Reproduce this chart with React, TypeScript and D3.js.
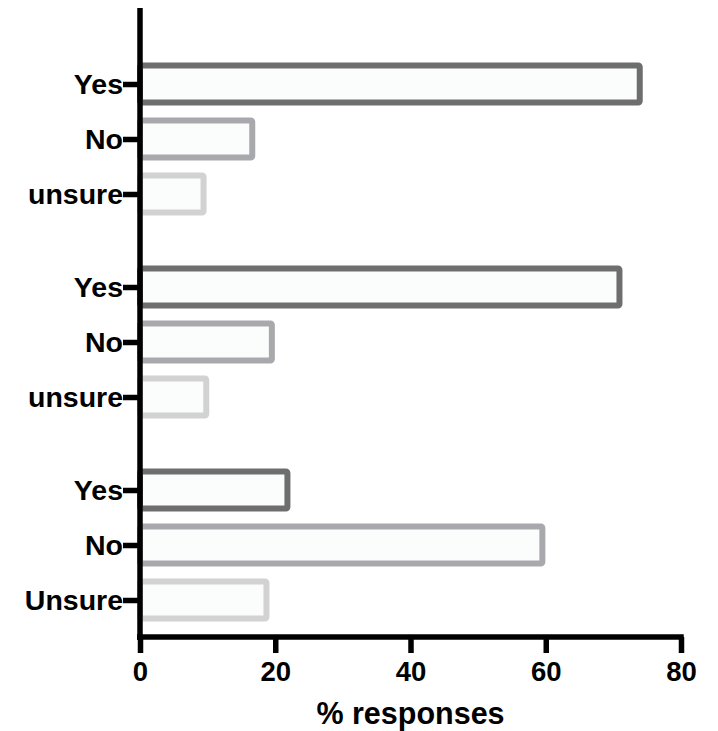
import React, { useEffect, useRef } from 'react';
import * as d3 from 'd3';

// three survey questions, each answered Yes / No / unsure
const groups = ['q1', 'q2', 'q3'];
const answers = ['Yes', 'No', 'Unsure'];
const answerLabels = [
  ['Yes', 'No', 'unsure'],
  ['Yes', 'No', 'unsure'],
  ['Yes', 'No', 'Unsure'],
];
const values = [
  [73.9, 16.6, 9.4],
  [70.9, 19.5, 9.8],
  [21.8, 59.5, 18.7],
];
const xTicks = [0, 20, 40, 60, 80];
const xLabel = '% responses';

const strokeColors = ['#6e6e6e', '#a9a9ad', '#d2d2d2'];
const FONT = '"Liberation Sans", Arial, Helvetica, sans-serif';

export default function App() {
  const svgRef = useRef<SVGSVGElement>(null);
  const width = 718;
  const height = 731;

  useEffect(() => {
    const svg = d3.select(svgRef.current);
    svg.selectAll('*').remove();

    const x = d3.scaleLinear().domain([0, 80]).range([140, 681]);
    const groupY = d3.scalePoint().domain(groups).range([139, 545]);
    const innerY = d3
      .scaleBand()
      .domain(answers)
      .range([-82.5, 82.5])
      .paddingInner(0.327)
      .paddingOuter(0.1635);

    const rows = groups.flatMap((g, gi) =>
      answers.map((a, ai) => ({
        key: g + '-' + a,
        label: answerLabels[gi][ai],
        value: values[gi][ai],
        idx: ai,
        y: groupY(g)! + innerY(a)!,
      }))
    );

    // bars
    svg
      .append('g')
      .selectAll('rect')
      .data(rows)
      .join('rect')
      .attr('x', x(0))
      .attr('y', (d) => d.y)
      .attr('width', (d) => x(d.value) - x(0))
      .attr('height', innerY.bandwidth())
      .attr('rx', 1.5)
      .attr('fill', '#fbfcfc')
      .attr('stroke', (d) => strokeColors[d.idx])
      .attr('stroke-width', 6)
      .attr('stroke-linejoin', 'round');

    // y axis with one tick per bar
    const yOrd = d3
      .scaleOrdinal<string, number>()
      .domain(rows.map((r) => r.key))
      .range(rows.map((r) => r.y + innerY.bandwidth() / 2));
    const labelOf = new Map(rows.map((r) => [r.key, r.label]));

    const yAxis = svg
      .append('g')
      .attr('transform', 'translate(140,0)')
      .call(
        d3
          .axisLeft(yOrd as any)
          .tickSize(17)
          .tickPadding(0)
          .tickFormat((d: any) => labelOf.get(d) as string)
      );
    yAxis.select('.domain').remove();
    yAxis.selectAll('.tick line').attr('stroke', '#000').attr('stroke-width', 5.5);
    yAxis
      .selectAll('.tick text')
      .attr('fill', '#000')
      .attr('dy', '0.34em')
      .style('font-family', FONT)
      .style('font-size', '28.5px')
      .style('font-weight', 'bold');

    // x axis
    const xAxis = svg
      .append('g')
      .attr('transform', 'translate(0,637)')
      .call(d3.axisBottom(x).tickValues(xTicks).tickSize(16).tickSizeOuter(0).tickPadding(8));
    xAxis.select('.domain').remove();
    xAxis.selectAll('.tick line').attr('stroke', '#000').attr('stroke-width', 5.5);
    xAxis
      .selectAll('.tick text')
      .attr('fill', '#000')
      .style('font-family', FONT)
      .style('font-size', '27.5px')
      .style('font-weight', 'bold');

    // axis lines
    svg
      .append('line')
      .attr('x1', x(0))
      .attr('x2', x(0))
      .attr('y1', 8)
      .attr('y2', 640)
      .attr('stroke', '#000')
      .attr('stroke-width', 5.5);
    svg
      .append('line')
      .attr('x1', 137)
      .attr('x2', x(80) + 2.75)
      .attr('y1', 637)
      .attr('y2', 637)
      .attr('stroke', '#000')
      .attr('stroke-width', 5.5);

    svg
      .append('text')
      .attr('x', (x(0) + x(80)) / 2)
      .attr('y', 724)
      .attr('text-anchor', 'middle')
      .style('font-family', FONT)
      .style('font-size', '30.5px')
      .style('font-weight', 'bold')
      .text(xLabel);
  }, []);

  return (
    <svg
      ref={svgRef}
      width={width}
      height={height}
      style={{ position: 'absolute', left: 0, top: 0, background: '#fff' }}
    />
  );
}
